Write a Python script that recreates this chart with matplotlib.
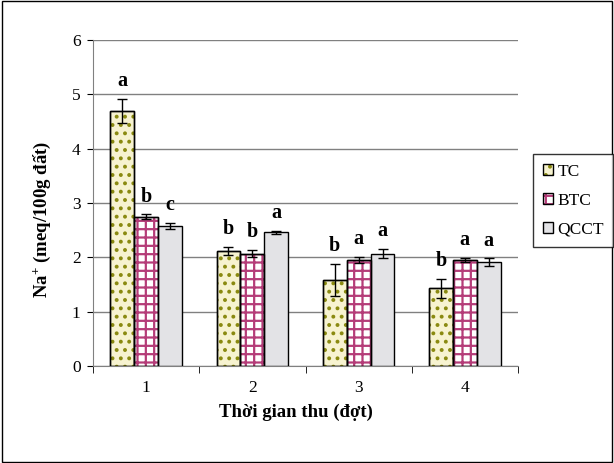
import numpy as np
import matplotlib
matplotlib.use("Agg")
import matplotlib.pyplot as plt
from matplotlib.patches import Rectangle

plt.rcParams['font.family'] = ['Liberation Serif', 'DejaVu Serif']
plt.rcParams['mathtext.fontset'] = 'custom'
plt.rcParams['mathtext.rm'] = 'Liberation Serif:bold'
plt.rcParams['mathtext.it'] = 'Liberation Serif:bold'
plt.rcParams['mathtext.bf'] = 'Liberation Serif:bold'
plt.rcParams['hatch.linewidth'] = 1.6

# data
categories = ['1', '2', '3', '4']
series_names = ['TC', 'BTC', 'QCCT']
tc = [4.70, 2.12, 1.58, 1.43]
btc = [2.75, 2.07, 1.95, 1.95]
qcct = [2.58, 2.46, 2.07, 1.91]
tc_err = [0.22, 0.07, 0.30, 0.17]
btc_err = [0.04, 0.07, 0.06, 0.04]
qcct_err = [0.06, 0.03, 0.09, 0.07]
tc_letters = ['a', 'b', 'b', 'b']
btc_letters = ['b', 'b', 'a', 'a']
qcct_letters = ['c', 'a', 'a', 'a']

fig = plt.figure(figsize=(6.14, 4.63), dpi=100)
fig.patches.append(Rectangle((0.003, 0.003), 0.994, 0.994, transform=fig.transFigure,
                             fill=False, edgecolor='black', linewidth=1))
ax = fig.add_axes([93 / 614, 1 - 366 / 463, (518 - 93) / 614, (366 - 40) / 463])

x = np.arange(len(categories))
w = 0.225
styles = [
    dict(facecolor='#f7f3d0', hatch='..', hatch_color='#8a8a10'),
    dict(facecolor='white', hatch='++', hatch_color='#b43c78'),
    dict(facecolor='#e3e3e6', hatch=None, hatch_color='#e3e3e6'),
]
values = [tc, btc, qcct]
errs = [tc_err, btc_err, qcct_err]
letters = [tc_letters, btc_letters, qcct_letters]

for i, (vals, err, st, name, lets) in enumerate(zip(values, errs, styles, series_names, letters)):
    pos = x + (i - 1) * w
    bars = ax.bar(pos, vals, w, facecolor=st['facecolor'], edgecolor='black', linewidth=1,
                  label=name, zorder=3)
    if st['hatch']:
        for b in bars:
            b.set_hatch(st['hatch'])
            b._hatch_color = matplotlib.colors.to_rgba(st['hatch_color'])
        # redraw outline in black
        ax.bar(pos, vals, w, facecolor='none', edgecolor='black', linewidth=1, zorder=4)
    ax.errorbar(pos, vals, yerr=err, fmt='none', ecolor='black', elinewidth=1,
                capsize=3.5, capthick=1, zorder=5)
    for p, v, e, l in zip(pos, vals, err, lets):
        ax.text(p, v + e + 0.14, l, ha='center', va='bottom', fontsize=14.5,
                fontweight='bold', zorder=6)

ax.set_ylim(0, 6)
ax.set_xlim(-0.5, 3.5)
ax.set_yticks(range(0, 7))
ax.yaxis.grid(True, color='#808080', linewidth=1)
ax.set_axisbelow(True)
ax.set_xticks(x)
ax.set_xticklabels(categories)
ax.set_xticks(np.arange(-0.5, 4.0, 1.0), minor=True)
ax.tick_params(axis='x', which='major', length=0, labelsize=12.5, pad=10)
ax.tick_params(axis='x', which='minor', length=5, direction='out')
ax.tick_params(axis='y', labelsize=12.5, length=4, direction='out', pad=5)
for s in ['top', 'right']:
    ax.spines[s].set_visible(False)
ax.spines['left'].set_color('#808080')
ax.spines['bottom'].set_color('#808080')

ax.set_xlabel('Thời gian thu (đợt)', fontsize=13.5, fontweight='bold')
ax.set_ylabel('Na$^{+}$ (meq/100g đất)', fontsize=13.5, fontweight='bold')
ax.xaxis.set_label_coords(0.477, -0.115)
ax.yaxis.set_label_coords(-0.095, 0.45)

leg = fig.legend(loc='upper left', bbox_to_anchor=(533 / 614, 1 - 154 / 463),
                 frameon=True, fancybox=False, edgecolor='black', fontsize=12.5,
                 handlelength=0.6, handleheight=0.6, handletextpad=0.25,
                 labelspacing=0.75, borderpad=0.55, borderaxespad=0)
leg.get_frame().set_linewidth(1)

fig.savefig('out.png', dpi=100)
